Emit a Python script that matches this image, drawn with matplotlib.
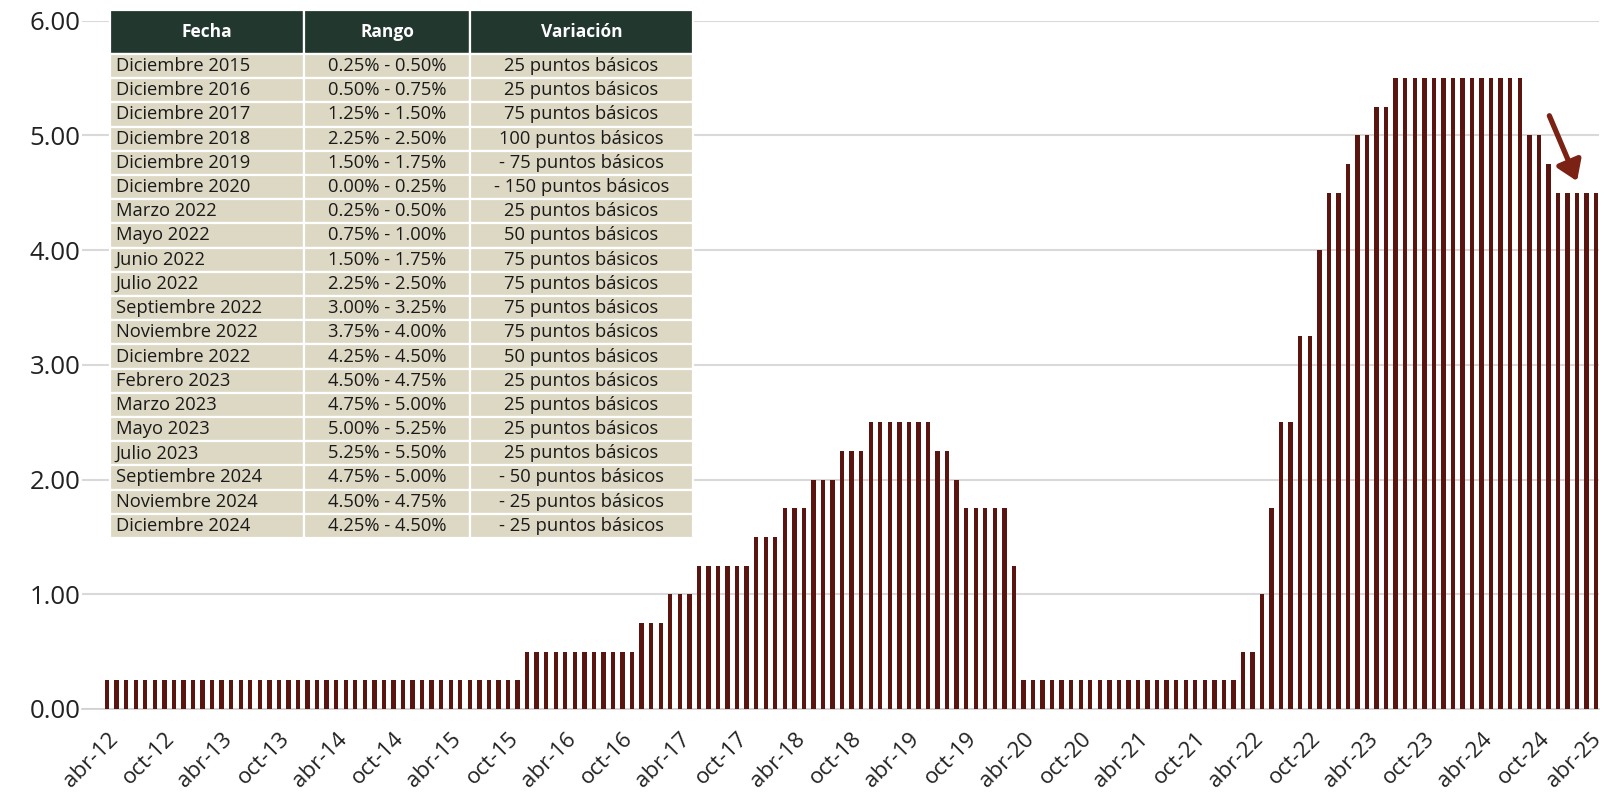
import matplotlib
matplotlib.use("Agg")
import matplotlib.pyplot as plt
from matplotlib.transforms import ScaledTranslation

plt.rcParams['font.family'] = ['Open Sans', 'DejaVu Sans']

# Monthly upper bound of the Fed funds target range, abr-12 .. abr-25
rate = [
    # 2012 abr-dic
    0.25, 0.25, 0.25, 0.25, 0.25, 0.25, 0.25, 0.25, 0.25,
    # 2013
    0.25, 0.25, 0.25, 0.25, 0.25, 0.25, 0.25, 0.25, 0.25, 0.25, 0.25, 0.25,
    # 2014
    0.25, 0.25, 0.25, 0.25, 0.25, 0.25, 0.25, 0.25, 0.25, 0.25, 0.25, 0.25,
    # 2015
    0.25, 0.25, 0.25, 0.25, 0.25, 0.25, 0.25, 0.25, 0.25, 0.25, 0.25, 0.50,
    # 2016
    0.50, 0.50, 0.50, 0.50, 0.50, 0.50, 0.50, 0.50, 0.50, 0.50, 0.50, 0.75,
    # 2017
    0.75, 0.75, 1.00, 1.00, 1.00, 1.25, 1.25, 1.25, 1.25, 1.25, 1.25, 1.50,
    # 2018
    1.50, 1.50, 1.75, 1.75, 1.75, 2.00, 2.00, 2.00, 2.25, 2.25, 2.25, 2.50,
    # 2019
    2.50, 2.50, 2.50, 2.50, 2.50, 2.50, 2.25, 2.25, 2.00, 1.75, 1.75, 1.75,
    # 2020
    1.75, 1.75, 1.25, 0.25, 0.25, 0.25, 0.25, 0.25, 0.25, 0.25, 0.25, 0.25,
    # 2021
    0.25, 0.25, 0.25, 0.25, 0.25, 0.25, 0.25, 0.25, 0.25, 0.25, 0.25, 0.25,
    # 2022
    0.25, 0.25, 0.50, 0.50, 1.00, 1.75, 2.50, 2.50, 3.25, 3.25, 4.00, 4.50,
    # 2023
    4.50, 4.75, 5.00, 5.00, 5.25, 5.25, 5.50, 5.50, 5.50, 5.50, 5.50, 5.50,
    # 2024
    5.50, 5.50, 5.50, 5.50, 5.50, 5.50, 5.50, 5.50, 5.00, 5.00, 4.75, 4.50,
    # 2025 ene-abr
    4.50, 4.50, 4.50, 4.50,
]

tick_labels = ["abr-12", "oct-12", "abr-13", "oct-13", "abr-14", "oct-14",
               "abr-15", "oct-15", "abr-16", "oct-16", "abr-17", "oct-17",
               "abr-18", "oct-18", "abr-19", "oct-19", "abr-20", "oct-20",
               "abr-21", "oct-21", "abr-22", "oct-22", "abr-23", "oct-23",
               "abr-24", "oct-24", "abr-25"]
y_ticks = [0, 1, 2, 3, 4, 5, 6]

table_header = ["Fecha", "Rango", "Variación"]
table_fecha = ["Diciembre 2015", "Diciembre 2016", "Diciembre 2017", "Diciembre 2018",
               "Diciembre 2019", "Diciembre 2020", "Marzo 2022", "Mayo 2022",
               "Junio 2022", "Julio 2022", "Septiembre 2022", "Noviembre 2022",
               "Diciembre 2022", "Febrero 2023", "Marzo 2023", "Mayo 2023",
               "Julio 2023", "Septiembre 2024", "Noviembre 2024", "Diciembre 2024"]
table_rango = ["0.25% - 0.50%", "0.50% - 0.75%", "1.25% - 1.50%", "2.25% - 2.50%",
               "1.50% - 1.75%", "0.00% - 0.25%", "0.25% - 0.50%", "0.75% - 1.00%",
               "1.50% - 1.75%", "2.25% - 2.50%", "3.00% - 3.25%", "3.75% - 4.00%",
               "4.25% - 4.50%", "4.50% - 4.75%", "4.75% - 5.00%", "5.00% - 5.25%",
               "5.25% - 5.50%", "4.75% - 5.00%", "4.50% - 4.75%", "4.25% - 4.50%"]
table_variacion = ["25 puntos básicos", "25 puntos básicos", "75 puntos básicos",
                   "100 puntos básicos", "- 75 puntos básicos", "- 150 puntos básicos",
                   "25 puntos básicos", "50 puntos básicos", "75 puntos básicos",
                   "75 puntos básicos", "75 puntos básicos", "75 puntos básicos",
                   "50 puntos básicos", "25 puntos básicos", "25 puntos básicos",
                   "25 puntos básicos", "25 puntos básicos", "- 50 puntos básicos",
                   "- 25 puntos básicos", "- 25 puntos básicos"]

BAR = "#5a1510"
ARROW = "#7c2214"
HEADER = "#22382f"
BODY = "#ddd8c3"

W, H = 1604, 793
fig = plt.figure(figsize=(W / 100, H / 100), dpi=100)
ax = fig.add_axes([82 / W, 1 - 709 / H, (1599 - 82) / W, (709 - 20.5) / H])

x = list(range(len(rate)))
ax.bar(x, rate, width=0.46, color=BAR, edgecolor="none", zorder=3)

ax.set_xlim(-2.63, 156.3)
ax.set_ylim(0, 6)
ax.set_yticks(y_ticks)
ax.set_yticklabels([f"{v:.2f}" for v in y_ticks], fontsize=18.5, color="#222222")
ax.set_xticks(list(range(0, len(rate), 6)))
ax.set_xticklabels(tick_labels, rotation=45, ha="right", rotation_mode="anchor",
                   fontsize=16, color="#222222")
ax.tick_params(axis="both", length=0)
ax.tick_params(axis="y", pad=1)
ax.tick_params(axis="x", pad=14)
ax.yaxis.grid(True, color="#d9d9d9", linewidth=1.5, zorder=0)
for s in ["top", "right", "left"]:
    ax.spines[s].set_visible(False)
ax.spines["bottom"].set_color("#d0d0d0")
ax.spines["bottom"].set_linewidth(1.2)
ax.set_axisbelow(True)

# keep the last tick label inside the canvas
last = ax.get_xticklabels()[-1]
last.set_transform(last.get_transform() + ScaledTranslation(-6 / 100, 0, fig.dpi_scale_trans))

# arrow marking the latest cuts
ax.annotate("", xy=(154.0, 4.60), xytext=(151.1, 5.17),
            arrowprops=dict(arrowstyle="-|>,head_length=0.9,head_width=0.6",
                            mutation_scale=13, color=ARROW, lw=3.8,
                            shrinkA=0, shrinkB=0), zorder=5)

# table
tx0, tx1, ty0, ty1 = 110, 693, 10, 538
tax = fig.add_axes([tx0 / W, 1 - ty1 / H, (tx1 - tx0) / W, (ty1 - ty0) / H])
tax.axis("off")
cells = [[f, r, v] for f, r, v in zip(table_fecha, table_rango, table_variacion)]
tbl = tax.table(cellText=cells, colLabels=table_header,
                colWidths=[194 / 583, 166 / 583, 223 / 583],
                bbox=[0, 0, 1, 1], cellLoc="center")
tbl.auto_set_font_size(False)
n_rows = len(cells)
head_h = 44
row_h = (ty1 - ty0 - head_h) / n_rows
for (r, c), cell in tbl.get_celld().items():
    cell.set_edgecolor("white")
    cell.set_linewidth(1.6)
    if r == 0:
        cell.set_height(head_h)
        cell.set_facecolor(HEADER)
        cell.get_text().set_color("white")
        cell.get_text().set_fontweight("bold")
        cell.get_text().set_fontsize(12.5)
    else:
        cell.set_height(row_h)
        cell.set_facecolor(BODY)
        cell.get_text().set_color("#1a1a1a")
        cell.get_text().set_fontsize(13.2)
        if c == 0:
            cell.get_text().set_ha("left")
            cell.PAD = 0.03

fig.savefig("out.png", dpi=100)
